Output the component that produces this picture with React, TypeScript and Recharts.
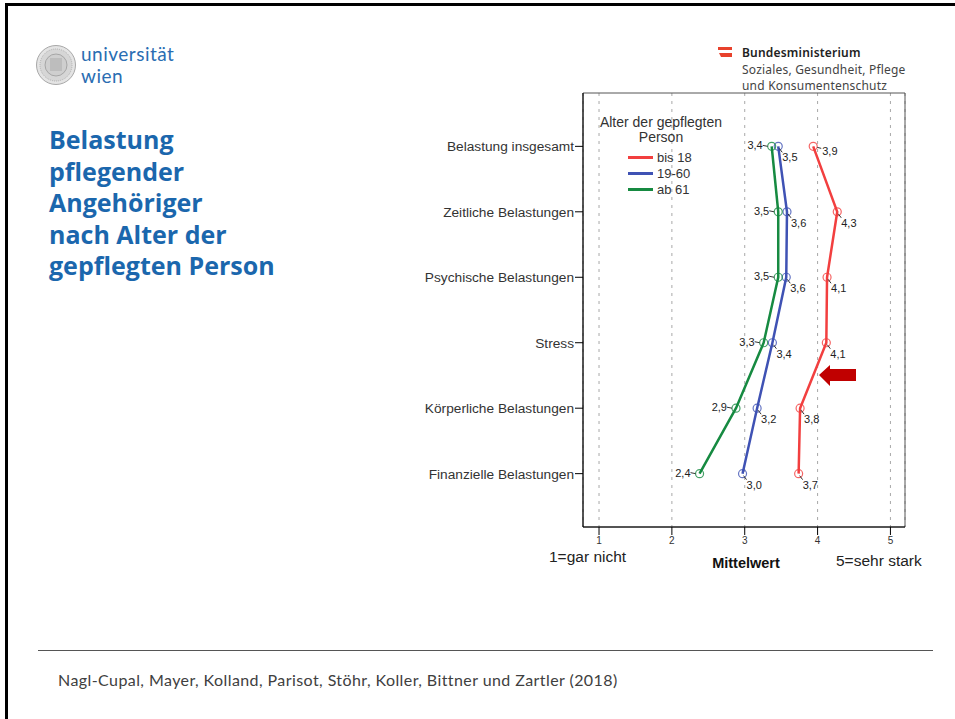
import React from 'react';
import {
  LineChart,
  Line,
  XAxis,
  YAxis,
  CartesianGrid,
  Legend,
  LabelList,
  ReferenceArea,
} from 'recharts';

// categories top to bottom
const categories = [
  'Belastung insgesamt',
  'Zeitliche Belastungen',
  'Psychische Belastungen',
  'Stress',
  'Körperliche Belastungen',
  'Finanzielle Belastungen',
];
// Mittelwert per age group of the cared-for person
const bis18 = [3.94, 4.27, 4.13, 4.12, 3.76, 3.74];
const age19to60 = [3.46, 3.58, 3.57, 3.38, 3.17, 2.97];
const ab61 = [3.37, 3.46, 3.46, 3.26, 2.88, 2.38];
const seriesNames = ['bis 18', '19-60', 'ab 61'];
const xTicks = [1, 2, 3, 4, 5];

const RED = '#f23f3f';
const BLUE = '#3f52b4';
const GREEN = '#168a41';
const CHART_FONT = '"Liberation Sans", Arial, sans-serif';

const data = categories.map((cat, i) => ({
  idx: i,
  cat,
  bis18: bis18[i],
  mid: age19to60[i],
  old: ab61[i],
}));

const fmt = (v: number) => v.toFixed(1).replace('.', ',');

// value label below-right of the point, with a tiny leader
const renderRight = (p: any, flatFirst: boolean) => {
  const { x, y, value, index } = p;
  if (x == null || y == null) return null;
  if (flatFirst && index === 0) {
    return (
      <g>
        <line x1={x + 4} y1={y + 1} x2={x + 8} y2={y + 2} stroke="#333" strokeWidth={1} />
        <text x={x + 9} y={y + 9} fontSize={11} fill="#222" fontFamily={CHART_FONT}>
          {fmt(value)}
        </text>
      </g>
    );
  }
  return (
    <g>
      <line x1={x + 1} y1={y + 2} x2={x + 4} y2={y + 6} stroke="#333" strokeWidth={1} />
      <text x={x + 4} y={y + 15} fontSize={11} fill="#222" fontFamily={CHART_FONT}>
        {fmt(value)}
      </text>
    </g>
  );
};

// value label to the left of the point
const renderLeft = (p: any) => {
  const { x, y, value } = p;
  if (x == null || y == null) return null;
  return (
    <g>
      <line x1={x - 9} y1={y - 1} x2={x - 4} y2={y} stroke="#333" strokeWidth={1} />
      <text x={x - 9} y={y + 3} fontSize={11} fill="#222" textAnchor="end" fontFamily={CHART_FONT}>
        {fmt(value)}
      </text>
    </g>
  );
};

const LegendBox = (props: any) => {
  const payload = [...(props.payload || [])].sort(
    (a: any, b: any) => seriesNames.indexOf(a.value) - seriesNames.indexOf(b.value)
  );
  return (
    <div style={{ fontFamily: CHART_FONT, color: '#333' }}>
      <div style={{ width: 140, textAlign: 'center', fontSize: 14, lineHeight: '14.5px' }}>
        <div>Alter der gepflegten</div>
        <div>Person</div>
      </div>
      <div style={{ marginTop: 5 }}>
        {payload.map((item: any) => (
          <div key={item.value} style={{ display: 'flex', alignItems: 'center', height: 16, marginLeft: 37 }}>
            <span style={{ width: 25, height: 3, background: item.color, display: 'inline-block' }} />
            <span style={{ marginLeft: 4, fontSize: 13 }}>{item.value}</span>
          </div>
        ))}
      </div>
    </div>
  );
};

const dot = (color: string) => ({ r: 4, stroke: color, strokeWidth: 1.2, fill: 'none', strokeOpacity: 0.8 });

const logoText = {
  position: 'absolute' as const,
  left: 81,
  fontFamily: 'Lato, sans-serif',
  fontSize: 19,
  lineHeight: '19px',
  color: '#2a6db2',
  letterSpacing: 0.5,
};

export default function App() {
  return (
    <div
      style={{
        position: 'absolute',
        left: 0,
        top: 0,
        width: 955,
        height: 719,
        background: '#fff',
        overflow: 'hidden',
      }}
    >
      {/* slide frame */}
      <div style={{ position: 'absolute', left: 5, top: 3, width: 950, height: 3, background: '#000' }} />
      <div style={{ position: 'absolute', left: 5, top: 3, width: 3, height: 716, background: '#000' }} />

      {/* university logo */}
      <svg style={{ position: 'absolute', left: 35, top: 44 }} width={42} height={42}>
        <circle cx={21} cy={21} r={19.5} fill="#e4e4e4" stroke="#a8a8a8" strokeWidth={1} />
        <circle cx={21} cy={21} r={16} fill="#d6d6d6" stroke="#b0b0b0" strokeWidth={1} strokeDasharray="1 1" />
        <circle cx={21} cy={21} r={11} fill="#cfcfcf" stroke="#9a9a9a" strokeWidth={0.8} />
        <rect x={15} y={14} width={12} height={13} fill="#bdbdbd" />
      </svg>
      <div style={{ ...logoText, top: 44 }}>universität</div>
      <div style={{ ...logoText, top: 66 }}>wien</div>

      {/* ministry logo */}
      <svg style={{ position: 'absolute', left: 716, top: 46 }} width={20} height={14}>
        <rect x={2} y={1} width={14} height={3} fill="#e8412c" />
        <polygon points="3,7 16,7 16,11 5,11" fill="#e8412c" />
      </svg>
      <div
        style={{
          position: 'absolute',
          left: 742,
          top: 45,
          fontFamily: '"Noto Sans", sans-serif',
          fontSize: 12,
          lineHeight: '16.5px',
          color: '#444',
          letterSpacing: 0.2,
        }}
      >
        <div style={{ fontWeight: 600, color: '#222' }}>Bundesministerium</div>
        <div>Soziales, Gesundheit, Pflege</div>
        <div>und Konsumentenschutz</div>
      </div>

      {/* slide title */}
      <div
        style={{
          position: 'absolute',
          left: 49,
          top: 124,
          fontFamily: '"Open Sans", sans-serif',
          fontWeight: 700,
          fontSize: 25,
          lineHeight: '31.5px',
          color: '#1b67ad',
        }}
      >
        Belastung
        <br />
        pflegender
        <br />
        Angehöriger
        <br />
        nach Alter der
        <br />
        gepflegten Person
      </div>

      <div style={{ position: 'absolute', left: 0, top: 0 }}>
        <LineChart
          width={955}
          height={719}
          layout="vertical"
          data={data}
          margin={{ top: 93, right: 50, bottom: 152, left: 400 }}
        >
          <CartesianGrid horizontal={false} stroke="#a8a8a8" strokeDasharray="3 5" />
          <ReferenceArea x1={0.78} x2={5.2} y1={-0.815} y2={5.815} fill="none" stroke="#555" strokeWidth={1} ifOverflow="visible" />
          <XAxis
            type="number"
            domain={[0.78, 5.2]}
            ticks={xTicks}
            allowDataOverflow
            height={40}
            stroke="#000"
            tickSize={8}
            tick={{ fontSize: 10, fill: '#333', fontFamily: CHART_FONT }}
          />
          <YAxis
            type="number"
            dataKey="idx"
            domain={[-0.815, 5.815]}
            ticks={[0, 1, 2, 3, 4, 5]}
            allowDataOverflow
            width={183}
            stroke="#000"
            tickSize={8}
            tickMargin={1}
            tickFormatter={(i: number) => categories[i]}
            tick={{ fontSize: 13.7, fill: '#333', fontFamily: CHART_FONT }}
          />
          <Legend
            layout="horizontal"
            verticalAlign="middle"
            align="center"
            wrapperStyle={{ left: 591, top: 115, width: 150 }}
            content={<LegendBox />}
          />
          <Line
            name={seriesNames[0]}
            dataKey="bis18"
            type="linear"
            stroke={RED}
            strokeWidth={2.5}
            dot={dot(RED)}
            activeDot={false}
            isAnimationActive={false}
          >
            <LabelList dataKey="bis18" content={(p: any) => renderRight(p, true)} />
          </Line>
          <Line
            name={seriesNames[1]}
            dataKey="mid"
            type="linear"
            stroke={BLUE}
            strokeWidth={2.5}
            dot={dot(BLUE)}
            activeDot={false}
            isAnimationActive={false}
          >
            <LabelList dataKey="mid" content={(p: any) => renderRight(p, false)} />
          </Line>
          <Line
            name={seriesNames[2]}
            dataKey="old"
            type="linear"
            stroke={GREEN}
            strokeWidth={2.5}
            dot={dot(GREEN)}
            activeDot={false}
            isAnimationActive={false}
          >
            <LabelList dataKey="old" content={renderLeft} />
          </Line>
        </LineChart>
      </div>

      {/* highlight arrow */}
      <svg style={{ position: 'absolute', left: 815, top: 362 }} width={45} height={28}>
        <polygon points="4,13 15,3 15,7 41,7 41,19 15,19 15,24" fill="#c00000" />
      </svg>

      {/* axis annotations */}
      <div style={{ position: 'absolute', left: 549, top: 548, fontFamily: CHART_FONT, fontSize: 15.5, color: '#222' }}>
        1=gar nicht
      </div>
      <div
        style={{
          position: 'absolute',
          left: 696,
          top: 555,
          width: 100,
          textAlign: 'center',
          fontFamily: CHART_FONT,
          fontSize: 14.5,
          fontWeight: 700,
          color: '#111',
        }}
      >
        Mittelwert
      </div>
      <div style={{ position: 'absolute', left: 836, top: 552, fontFamily: CHART_FONT, fontSize: 15.5, color: '#222' }}>
        5=sehr stark
      </div>

      {/* footer */}
      <div style={{ position: 'absolute', left: 38, top: 650, width: 895, height: 1, background: '#555' }} />
      <div
        style={{
          position: 'absolute',
          left: 58,
          top: 670,
          fontFamily: 'Lato, sans-serif',
          fontSize: 16,
          color: '#404040',
          letterSpacing: 0.42,
        }}
      >
        Nagl-Cupal, Mayer, Kolland, Parisot, Stöhr, Koller, Bittner und Zartler (2018)
      </div>
    </div>
  );
}
